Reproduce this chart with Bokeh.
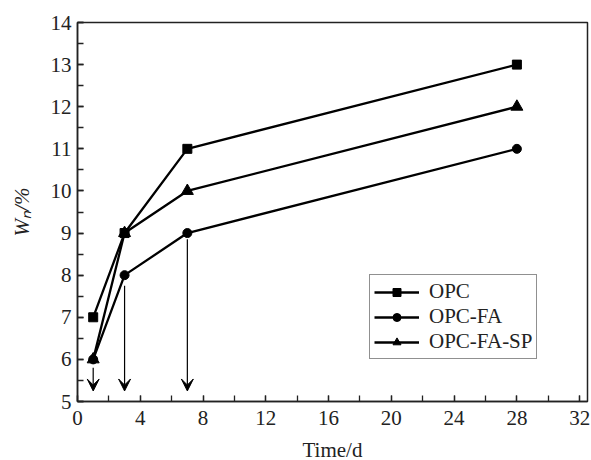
from bokeh.plotting import figure
from bokeh.models import (Range1d, SingleIntervalTicker, Legend, LegendItem,
                          Arrow, VeeHead)
from bokeh.embed import file_html
from bokeh.resources import INLINE

# ---- data ----
time_d = [1, 3, 7, 28]
opc = [7, 9, 11, 13]
opc_fa = [6, 8, 9, 11]
opc_fa_sp = [6, 9, 10, 12]
series_names = ["OPC", "OPC-FA", "OPC-FA-SP"]

arrow_x = [1, 3, 7]
arrow_start = [5.8, 7.75, 8.85]
arrow_end = [5.25, 5.25, 5.25]

FONT = "Liberation Serif"
FS = "21px"

p = figure(frame_width=510, frame_height=379, output_backend="svg", toolbar_location=None,
           x_range=Range1d(0, 32.5), y_range=Range1d(5, 14),
           min_border_left=77, min_border_right=4, min_border_top=22,
           min_border_bottom=59)
p.grid.visible = False
p.background_fill_color = "white"
p.border_fill_color = "white"
p.outline_line_color = "#222222"
p.outline_line_width = 1.5

p.xaxis.ticker = SingleIntervalTicker(interval=4, num_minor_ticks=2)
p.yaxis.ticker = SingleIntervalTicker(interval=1, num_minor_ticks=2)
for ax in (p.xaxis[0], p.yaxis[0]):
    ax.major_tick_in = 6
    ax.major_tick_out = 0
    ax.minor_tick_in = 6
    ax.minor_tick_out = 0
    ax.axis_line_color = "#222222"
    ax.axis_line_width = 1.5
    ax.major_tick_line_color = "#222222"
    ax.minor_tick_line_color = "#222222"
    ax.major_tick_line_width = 1.3
    ax.minor_tick_line_width = 1.3
    ax.major_label_text_font = FONT
    ax.major_label_text_font_size = FS
    ax.major_label_text_color = "#222222"
    ax.axis_label_text_font = FONT
    ax.axis_label_text_font_size = FS
    ax.axis_label_text_color = "#222222"

p.xaxis.major_label_standoff = 9
p.xaxis.axis_label = "Time/d"
p.xaxis.axis_label_text_font_style = "normal"
p.xaxis.axis_label_standoff = 10
p.yaxis.major_label_standoff = 6
p.yaxis.axis_label = "W\u2099/%"
p.yaxis.axis_label_text_font_style = "italic"
p.yaxis.axis_label_standoff = 14

# lines & markers
r1l = p.line(time_d, opc, line_color="black", line_width=2.3)
r1m = p.scatter(time_d, opc, marker="square", size=9, color="black")
r2l = p.line(time_d, opc_fa, line_color="black", line_width=2.3)
r2m = p.scatter(time_d, opc_fa, marker="circle", size=9, color="black")
r3l = p.line(time_d, opc_fa_sp, line_color="black", line_width=2.3)
r3m = p.scatter(time_d, opc_fa_sp, marker="triangle", size=12, color="black")

# arrows
for xa, ys, ye in zip(arrow_x, arrow_start, arrow_end):
    p.add_layout(Arrow(end=VeeHead(size=12, fill_color="black", line_color="black", line_width=1),
                       x_start=xa, y_start=ys, x_end=xa, y_end=ye,
                       line_color="black", line_width=1.2))

legend = Legend(items=[
    LegendItem(label=series_names[0], renderers=[r1l, r1m]),
    LegendItem(label=series_names[1], renderers=[r2l, r2m]),
    LegendItem(label=series_names[2], renderers=[r3l, r3m]),
], location=(292, 42))
legend.label_text_font = FONT
legend.label_text_font_size = FS
legend.label_text_color = "#222222"
legend.border_line_color = "#222222"
legend.border_line_width = 1.5
legend.padding = 4
legend.spacing = -2
legend.glyph_width = 45
legend.glyph_height = 20
legend.label_height = 20
legend.label_standoff = 10
legend.margin = 0
p.add_layout(legend)

open("out.html", "w").write(file_html(p, INLINE))
